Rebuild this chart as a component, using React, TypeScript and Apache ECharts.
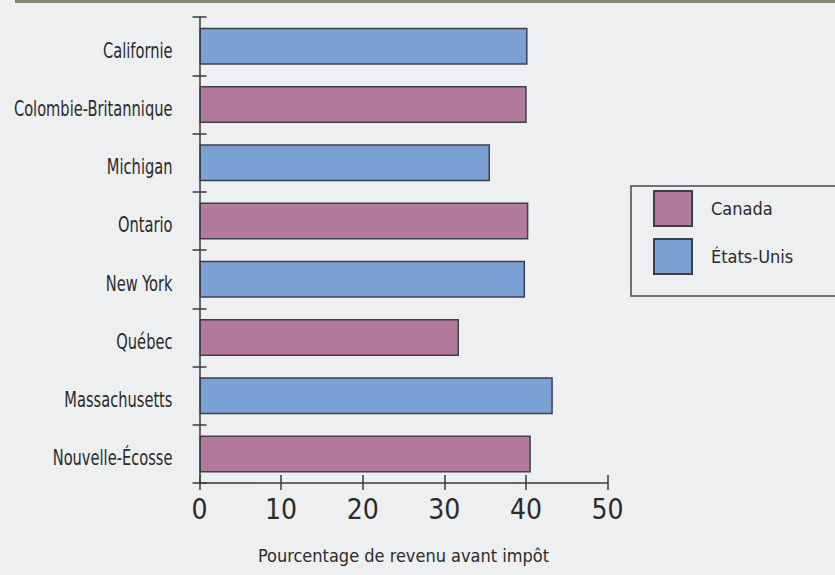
import React, { useEffect, useRef } from "react";
import * as echarts from "echarts";

const categories = [
  "Californie",
  "Colombie-Britannique",
  "Michigan",
  "Ontario",
  "New York",
  "Québec",
  "Massachusetts",
  "Nouvelle-Écosse",
];
const canadaValues: (number | null)[] = [null, 40.1, null, 40.3, null, 31.8, null, 40.6];
const usValues: (number | null)[] = [40.2, null, 35.6, null, 39.9, null, 43.3, null];
const xTicks = [0, 10, 20, 30, 40, 50];
const seriesNames = ["Canada", "États-Unis"];
const axisTitle = "Pourcentage de revenu avant impôt";

const FONT = "'DejaVu Sans Condensed', 'Liberation Sans Narrow', sans-serif";
const PINK = "#b27b9c";
const BLUE = "#7ba0d3";
const EDGE = "#3d404c";
const AXIS = "#3a3a3a";
const TEXT = "#2b2b2b";

export default function App() {
  const ref = useRef<HTMLDivElement>(null);
  useEffect(() => {
    if (!ref.current) return;
    const chart = echarts.init(ref.current, null, { renderer: "svg" });
    const yBase = {
      type: "category" as const,
      data: categories,
      inverse: true,
      position: "left" as const,
    };
    const staticGraphics: any[] = [
      {
        id: "topline",
        type: "line",
        shape: { x1: 15, y1: 1.5, x2: 835, y2: 1.5 },
        style: { stroke: "#85846d", lineWidth: 3 },
        silent: true,
      },
      {
        id: "legendbox",
        type: "rect",
        shape: { x: 631, y: 186, width: 300, height: 110 },
        style: { fill: "none", stroke: "#4a4a4a", lineWidth: 1.5 },
        silent: true,
      },
    ];
    chart.setOption({
      animation: false,
      backgroundColor: "#eeeff0",
      grid: { left: 199.5, top: 17, width: 408, bottom: 92, containLabel: false, outerBoundsMode: "none" },
      xAxis: [
        {
          type: "value",
          min: xTicks[0],
          max: xTicks[xTicks.length - 1],
          interval: 10,
          splitLine: { show: false },
          axisLine: { show: true, lineStyle: { color: AXIS, width: 1.5 } },
          axisTick: { show: true, length: 7, lineStyle: { color: AXIS, width: 1.5 } },
          axisLabel: { fontFamily: FONT, fontSize: 28, color: TEXT, margin: 12 },
          name: axisTitle,
          nameLocation: "middle",
          nameGap: 63,
          nameTextStyle: { fontFamily: FONT, fontSize: 18, color: TEXT },
        },
        {
          type: "value",
          position: "bottom",
          min: xTicks[0],
          max: xTicks[xTicks.length - 1],
          interval: 10,
          splitLine: { show: false },
          axisLine: { show: false },
          axisTick: { show: true, inside: true, length: 8, lineStyle: { color: AXIS, width: 1.5 } },
          axisLabel: { show: false },
        },
      ],
      yAxis: [
        {
          ...yBase,
          axisLine: { show: true, lineStyle: { color: AXIS, width: 1.5 } },
          axisTick: { show: true, length: 7, lineStyle: { color: AXIS, width: 1.5 } },
          axisLabel: { show: false },
        },
        {
          ...yBase,
          axisLine: { show: false },
          axisTick: { show: true, inside: true, length: 7, lineStyle: { color: AXIS, width: 1.5 } },
          axisLabel: { show: false },
        },
      ],
      legend: {
        left: 653,
        top: 190,
        orient: "vertical",
        padding: 0,
        itemWidth: 38,
        itemHeight: 35,
        itemGap: 11,
        icon: "rect",
        textStyle: { fontFamily: FONT, fontSize: 18, color: TEXT, padding: [0, 0, 0, 14] },
        data: seriesNames,
      },
      graphic: staticGraphics,
      series: [
        {
          name: seriesNames[0],
          type: "bar",
          xAxisIndex: 0,
          yAxisIndex: 0,
          stack: "all",
          barWidth: 37,
          data: canadaValues.map((v) => (v == null ? "-" : v)),
          itemStyle: { color: PINK, borderColor: EDGE, borderWidth: 1.5 },
        },
        {
          name: seriesNames[1],
          type: "bar",
          xAxisIndex: 0,
          yAxisIndex: 0,
          stack: "all",
          barWidth: 37,
          data: usValues.map((v) => (v == null ? "-" : v)),
          itemStyle: { color: BLUE, borderColor: EDGE, borderWidth: 1.5 },
        },
      ],
    });
    // Category labels: placed via the y axis scale, drawn slightly condensed
    const axisX = chart.convertToPixel({ xAxisIndex: 0 }, 0) as number;
    const labelGraphics = categories.map((c, i) => {
      const y = chart.convertToPixel({ yAxisIndex: 0 }, c) as number;
      return {
        id: "cat" + i,
        type: "text",
        x: axisX - 27,
        y: y + 4,
        scaleX: 0.74,
        silent: true,
        style: {
          text: c,
          align: "right",
          verticalAlign: "middle",
          fontFamily: FONT,
          fontSize: 22,
          fill: TEXT,
        },
      };
    });
    chart.setOption({ graphic: [...staticGraphics, ...labelGraphics] });
    return () => chart.dispose();
  }, []);
  return (
    <div
      ref={ref}
      style={{ position: "fixed", left: 0, top: 0, width: 835, height: 575, background: "#eeeff0" }}
    />
  );
}
